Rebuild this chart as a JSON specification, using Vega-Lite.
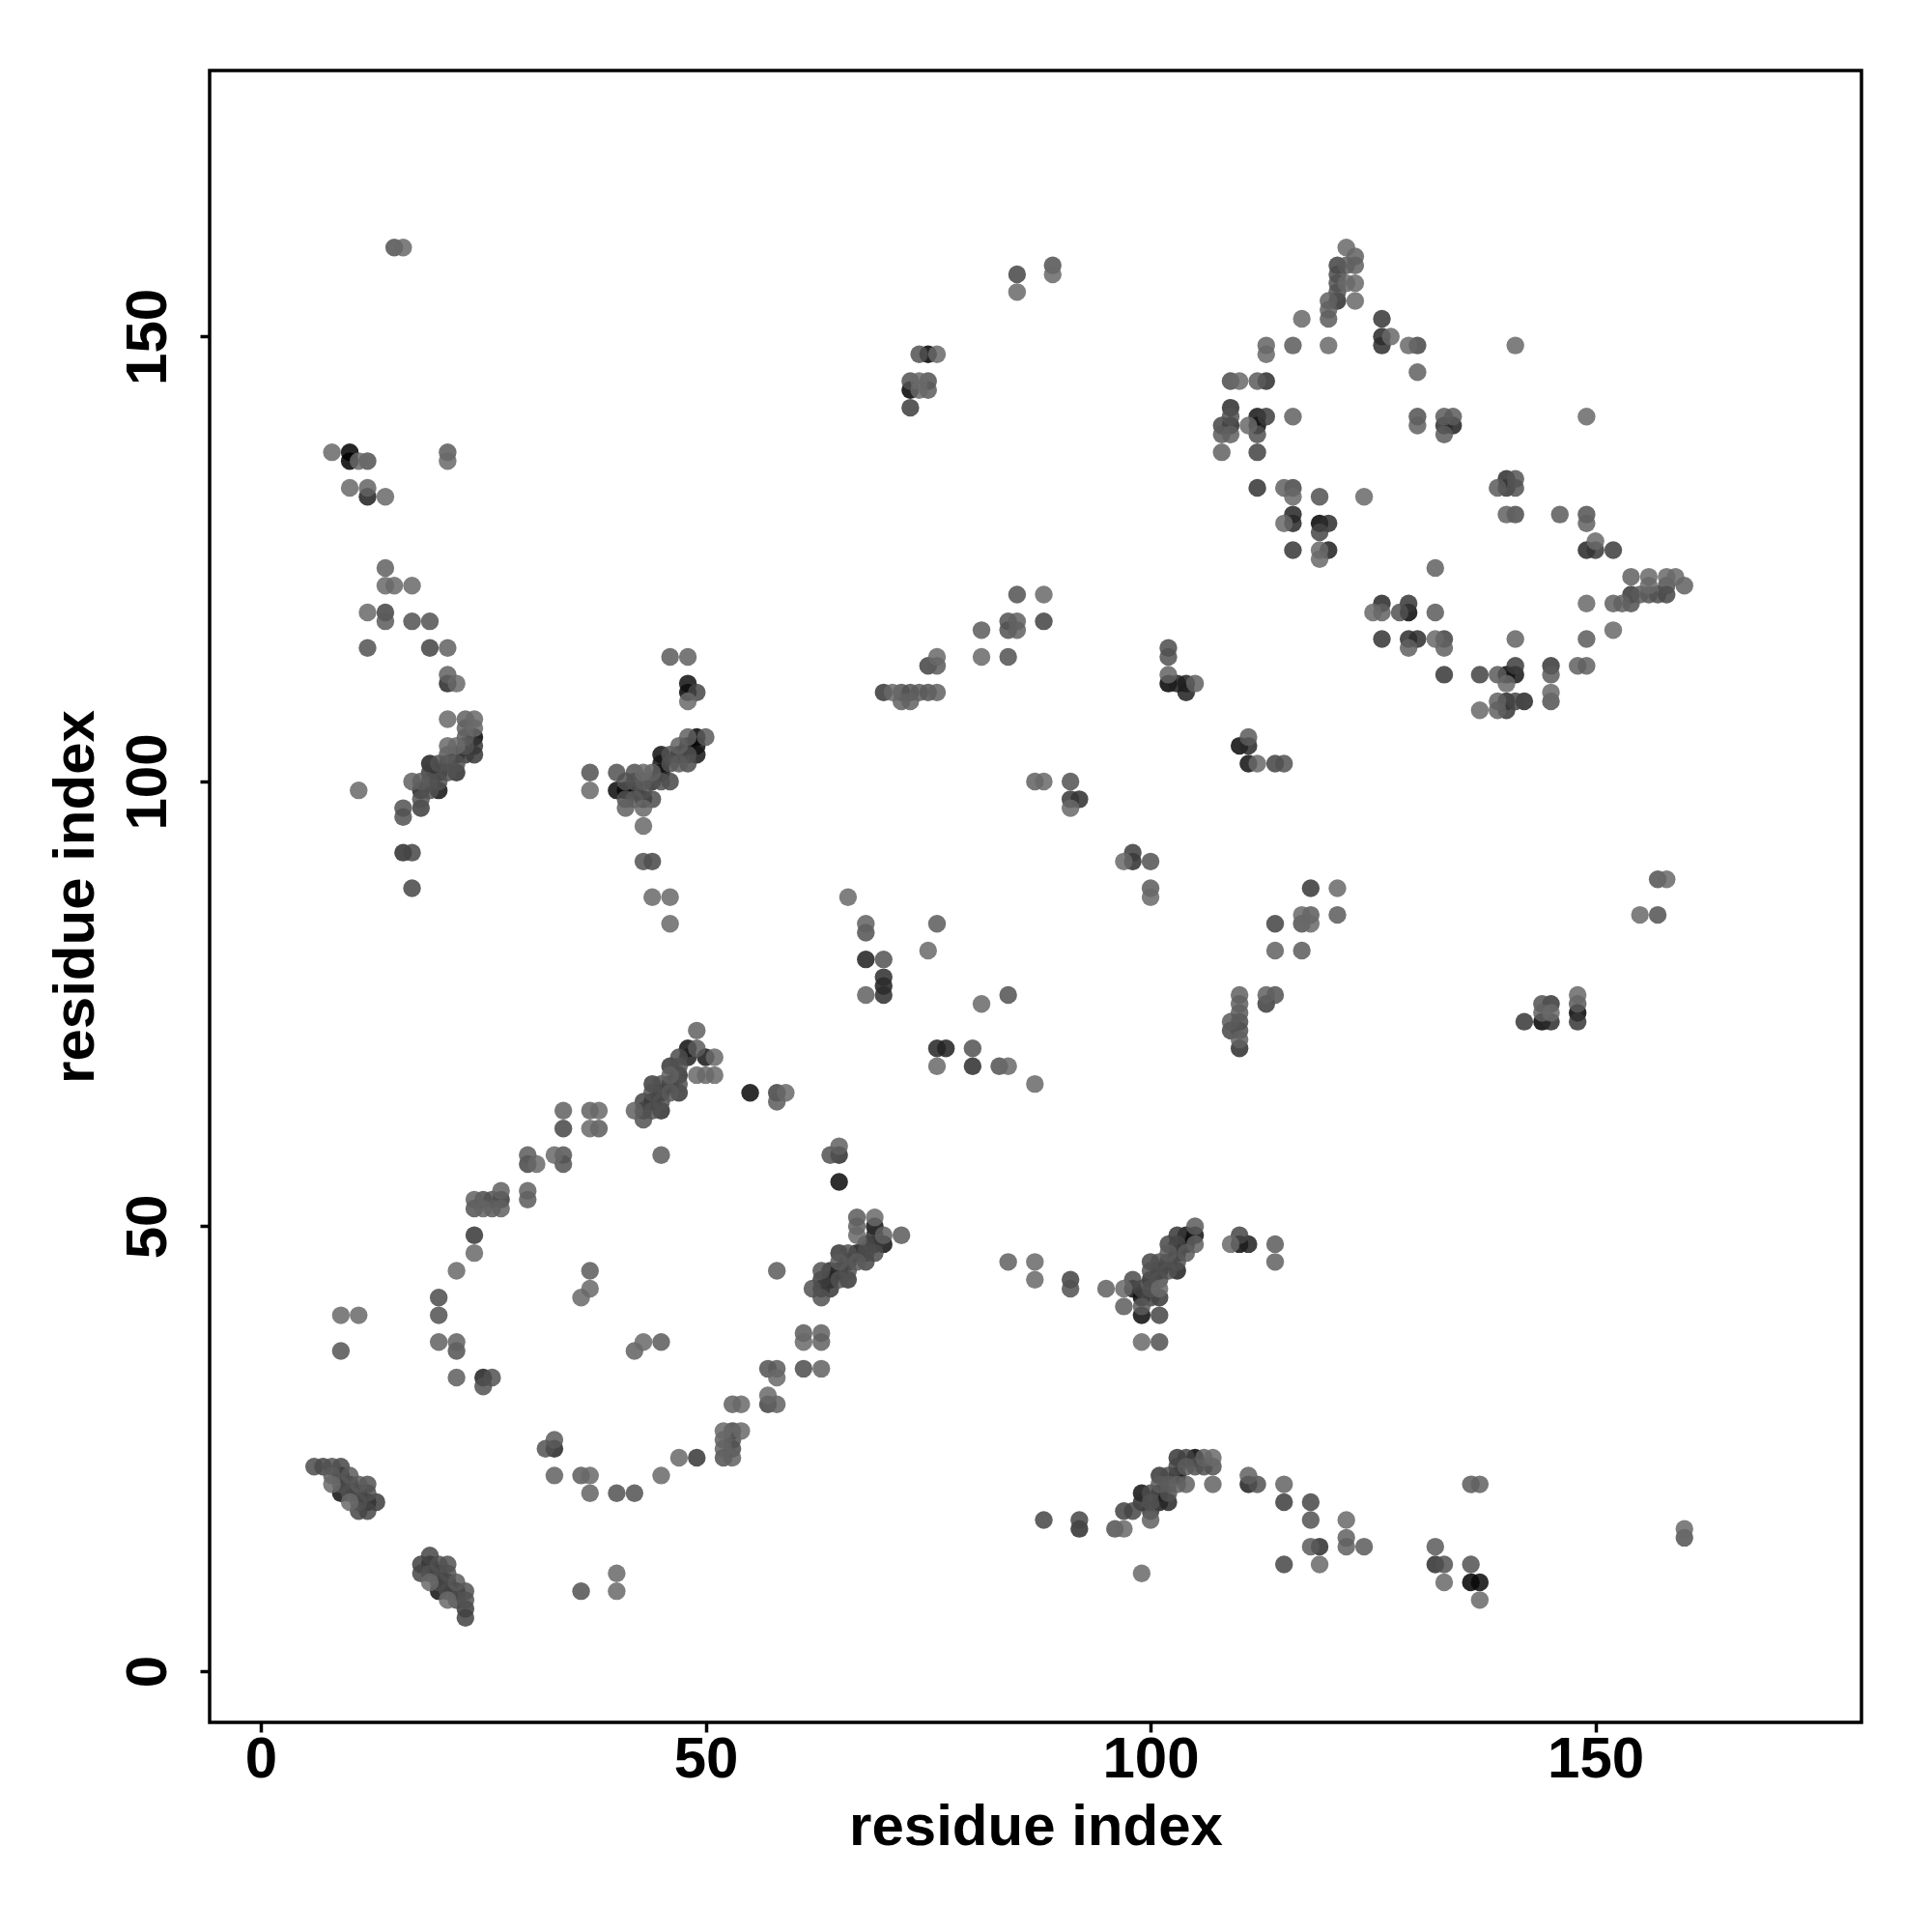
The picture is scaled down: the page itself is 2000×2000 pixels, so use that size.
{"$schema":"https://vega.github.io/schema/vega-lite/v6.json","autosize":{"type":"none"},"width":1710,"height":1710,"padding":{"left":217,"top":73,"right":73,"bottom":217},"background":"white","view":{"stroke":"black","strokeWidth":3.5,"fill":null},"config":{"font":"Liberation Sans"},
"data":{"values":[
{"x":6,"y":23,"s":0.4},{"x":7,"y":23,"s":0.37},{"x":8,"y":23,"s":0.42},{"x":9,"y":23,"s":0.38},{"x":8,"y":22,"s":0.45},{"x":9,"y":22,"s":0.05},{"x":10,"y":22,"s":0.45},{"x":8,"y":21,"s":0.5},{"x":9,"y":21,"s":0.42},{"x":10,"y":21,"s":0.05},{"x":11,"y":21,"s":0.45},{"x":12,"y":21,"s":0.42},{"x":9,"y":20,"s":0.2},{"x":10,"y":20,"s":0.42},{"x":11,"y":20,"s":0.05},{"x":12,"y":20,"s":0.42},{"x":10,"y":19,"s":0.5},{"x":11,"y":19,"s":0.42},{"x":12,"y":19,"s":0.05},{"x":13,"y":19,"s":0.35},{"x":11,"y":18,"s":0.38},{"x":12,"y":18,"s":0.38},
{"x":19,"y":13,"s":0.38},{"x":18,"y":12,"s":0.36},{"x":18,"y":11,"s":0.38},{"x":19,"y":12,"s":0.05},{"x":20,"y":12,"s":0.42},{"x":21,"y":12,"s":0.42},{"x":19,"y":11,"s":0.42},{"x":20,"y":11,"s":0.05},{"x":21,"y":11,"s":0.42},{"x":19,"y":10,"s":0.5},{"x":20,"y":10,"s":0.4},{"x":21,"y":10,"s":0.05},{"x":22,"y":10,"s":0.45},{"x":20,"y":9,"s":0.2},{"x":21,"y":9,"s":0.4},{"x":22,"y":9,"s":0.05},{"x":23,"y":9,"s":0.42},{"x":21,"y":8,"s":0.5},{"x":22,"y":8,"s":0.4},{"x":23,"y":8,"s":0.42},{"x":23,"y":7,"s":0.35},{"x":23,"y":6,"s":0.37},
{"x":36,"y":9,"s":0.42},{"x":40,"y":11,"s":0.5},{"x":40,"y":9,"s":0.5},{"x":45,"y":22,"s":0.5},{"x":47,"y":24,"s":0.5},{"x":49,"y":24,"s":0.33},{"x":33,"y":22,"s":0.47},{"x":36,"y":22,"s":0.45},{"x":37,"y":22,"s":0.5},{"x":37,"y":20,"s":0.48},{"x":40,"y":20,"s":0.42},{"x":42,"y":20,"s":0.42},{"x":32,"y":25,"s":0.42},{"x":33,"y":26,"s":0.45},{"x":33,"y":25,"s":0.27},
{"x":52,"y":27,"s":0.5},{"x":53,"y":27,"s":0.38},{"x":54,"y":27,"s":0.5},{"x":52,"y":26,"s":0.47},{"x":53,"y":26,"s":0.42},{"x":52,"y":25,"s":0.48},{"x":53,"y":25,"s":0.4},{"x":52,"y":24,"s":0.42},{"x":53,"y":24,"s":0.47},{"x":53,"y":30,"s":0.47},{"x":54,"y":30,"s":0.5},{"x":57,"y":31,"s":0.5},{"x":57,"y":30,"s":0.37},{"x":58,"y":30,"s":0.47},{"x":57,"y":34,"s":0.42},{"x":58,"y":34,"s":0.45},{"x":58,"y":33,"s":0.5},
{"x":49,"y":72,"s":0.47},{"x":48,"y":70,"s":0.2},{"x":49,"y":70,"s":0.45},{"x":50,"y":69,"s":0.22},{"x":51,"y":69,"s":0.5},{"x":49,"y":67,"s":0.5},{"x":50,"y":67,"s":0.5},{"x":51,"y":67,"s":0.5},{"x":47,"y":69,"s":0.4},{"x":48,"y":69,"s":0.25},{"x":46,"y":68,"s":0.33},{"x":47,"y":68,"s":0.42},{"x":46,"y":67,"s":0.47},{"x":47,"y":67,"s":0.3},{"x":46,"y":66,"s":0.15},{"x":47,"y":66,"s":0.42},{"x":47,"y":65,"s":0.33},{"x":44,"y":66,"s":0.35},{"x":45,"y":66,"s":0.42},{"x":45,"y":65,"s":0.05},{"x":44,"y":65,"s":0.42},{"x":46,"y":65,"s":0.45},{"x":43,"y":64,"s":0.37},{"x":44,"y":64,"s":0.05},{"x":45,"y":64,"s":0.42},{"x":45,"y":63,"s":0.3},{"x":44,"y":63,"s":0.42},{"x":43,"y":63,"s":0.37},{"x":42,"y":63,"s":0.47},{"x":43,"y":62,"s":0.42},{"x":45,"y":58,"s":0.45},
{"x":34,"y":63,"s":0.47},{"x":34,"y":61,"s":0.38},{"x":37,"y":63,"s":0.47},{"x":38,"y":63,"s":0.5},{"x":37,"y":61,"s":0.5},{"x":38,"y":61,"s":0.45},{"x":30,"y":58,"s":0.45},{"x":30,"y":57,"s":0.38},{"x":31,"y":57,"s":0.5},{"x":33,"y":58,"s":0.5},{"x":34,"y":58,"s":0.43},{"x":34,"y":57,"s":0.42},{"x":30,"y":54,"s":0.47},{"x":30,"y":53,"s":0.45},{"x":27,"y":54,"s":0.47},{"x":27,"y":53,"s":0.33},{"x":24,"y":53,"s":0.47},{"x":25,"y":53,"s":0.4},{"x":26,"y":53,"s":0.42},{"x":24,"y":52,"s":0.42},{"x":25,"y":52,"s":0.48},{"x":26,"y":52,"s":0.45},{"x":27,"y":52,"s":0.47},{"x":24,"y":49,"s":0.33},{"x":24,"y":47,"s":0.5},{"x":22,"y":45,"s":0.5},{"x":20,"y":42,"s":0.4},{"x":20,"y":40,"s":0.42},{"x":20,"y":37,"s":0.47},{"x":22,"y":37,"s":0.47},{"x":22,"y":36,"s":0.42},{"x":22,"y":33,"s":0.46},{"x":25,"y":33,"s":0.25},{"x":26,"y":33,"s":0.42},{"x":25,"y":32,"s":0.42},{"x":37,"y":45,"s":0.45},{"x":37,"y":43,"s":0.5},{"x":36,"y":42,"s":0.5},{"x":45,"y":37,"s":0.45},{"x":43,"y":37,"s":0.5},{"x":42,"y":36,"s":0.47},
{"x":55,"y":65,"s":0.18},{"x":58,"y":65,"s":0.37},{"x":59,"y":65,"s":0.5},{"x":58,"y":64,"s":0.45},{"x":65,"y":59,"s":0.47},{"x":64,"y":58,"s":0.42},{"x":65,"y":58,"s":0.3},{"x":65,"y":55,"s":0.18},
{"x":67,"y":51,"s":0.45},{"x":69,"y":51,"s":0.5},{"x":67,"y":50,"s":0.47},{"x":67,"y":49,"s":0.5},{"x":69,"y":50,"s":0.2},{"x":70,"y":49,"s":0.47},{"x":72,"y":49,"s":0.45},{"x":70,"y":48,"s":0.2},{"x":69,"y":49,"s":0.3},{"x":69,"y":48,"s":0.35},{"x":68,"y":48,"s":0.38},{"x":68,"y":47,"s":0.4},{"x":69,"y":47,"s":0.4},{"x":67,"y":47,"s":0.22},{"x":66,"y":47,"s":0.42},{"x":65,"y":47,"s":0.33},{"x":68,"y":46,"s":0.38},{"x":66,"y":46,"s":0.2},{"x":67,"y":46,"s":0.45},{"x":65,"y":46,"s":0.45},{"x":64,"y":45,"s":0.3},{"x":65,"y":45,"s":0.05},{"x":66,"y":45,"s":0.42},{"x":63,"y":45,"s":0.42},{"x":64,"y":44,"s":0.05},{"x":65,"y":44,"s":0.42},{"x":66,"y":44,"s":0.33},{"x":63,"y":44,"s":0.35},{"x":62,"y":43,"s":0.42},{"x":63,"y":43,"s":0.3},{"x":64,"y":43,"s":0.33},{"x":63,"y":42,"s":0.42},{"x":58,"y":45,"s":0.45},{"x":61,"y":38,"s":0.45},{"x":63,"y":38,"s":0.47},{"x":61,"y":37,"s":0.5},{"x":63,"y":37,"s":0.47},{"x":61,"y":34,"s":0.4},{"x":63,"y":34,"s":0.47},
{"x":9,"y":40,"s":0.5},{"x":11,"y":40,"s":0.5},{"x":9,"y":36,"s":0.43},
{"x":87,"y":46,"s":0.5},{"x":87,"y":44,"s":0.5},{"x":84,"y":46,"s":0.47},{"x":91,"y":44,"s":0.37},{"x":91,"y":43,"s":0.42},{"x":95,"y":43,"s":0.47},{"x":97,"y":43,"s":0.5},{"x":97,"y":41,"s":0.46},{"x":98,"y":44,"s":0.4},{"x":98,"y":43,"s":0.2},{"x":99,"y":41,"s":0.45},{"x":99,"y":40,"s":0.18},{"x":99,"y":42,"s":0.15},{"x":101,"y":40,"s":0.38},{"x":99,"y":37,"s":0.5},{"x":101,"y":37,"s":0.42},{"x":100,"y":42,"s":0.38},{"x":101,"y":42,"s":0.33},{"x":101,"y":43,"s":0.5},{"x":100,"y":43,"s":0.42},{"x":99,"y":43,"s":0.38},{"x":100,"y":44,"s":0.28},{"x":100,"y":45,"s":0.42},{"x":100,"y":46,"s":0.38},{"x":101,"y":44,"s":0.42},{"x":101,"y":45,"s":0.05},{"x":102,"y":45,"s":0.42},{"x":103,"y":45,"s":0.25},{"x":101,"y":46,"s":0.42},{"x":102,"y":46,"s":0.25},{"x":103,"y":46,"s":0.42},{"x":102,"y":47,"s":0.45},{"x":103,"y":47,"s":0.12},{"x":104,"y":47,"s":0.45},{"x":102,"y":48,"s":0.38},{"x":103,"y":48,"s":0.38},{"x":104,"y":48,"s":0.12},{"x":105,"y":48,"s":0.47},{"x":103,"y":49,"s":0.33},{"x":104,"y":49,"s":0.2},{"x":105,"y":49,"s":0.2},{"x":105,"y":50,"s":0.45},
{"x":109,"y":48,"s":0.5},{"x":110,"y":49,"s":0.38},{"x":110,"y":48,"s":0.18},{"x":111,"y":48,"s":0.25},{"x":114,"y":48,"s":0.45},{"x":114,"y":46,"s":0.47},
{"x":88,"y":17,"s":0.38},{"x":92,"y":17,"s":0.38},{"x":92,"y":16,"s":0.3},{"x":96,"y":16,"s":0.42},{"x":97,"y":16,"s":0.5},{"x":97,"y":18,"s":0.37},{"x":98,"y":18,"s":0.38},{"x":99,"y":19,"s":0.3},{"x":99,"y":20,"s":0.2},{"x":100,"y":17,"s":0.47},{"x":100,"y":18,"s":0.35},{"x":100,"y":19,"s":0.42},{"x":100,"y":20,"s":0.4},{"x":101,"y":19,"s":0.25},{"x":101,"y":20,"s":0.05},{"x":102,"y":19,"s":0.28},{"x":102,"y":20,"s":0.42},{"x":101,"y":22,"s":0.33},{"x":102,"y":22,"s":0.4},{"x":102,"y":21,"s":0.45},{"x":101,"y":21,"s":0.45},{"x":103,"y":22,"s":0.12},{"x":103,"y":23,"s":0.38},{"x":103,"y":24,"s":0.33},{"x":104,"y":24,"s":0.37},{"x":105,"y":24,"s":0.15},{"x":106,"y":24,"s":0.47},{"x":107,"y":24,"s":0.5},{"x":104,"y":23,"s":0.45},{"x":105,"y":23,"s":0.42},{"x":106,"y":23,"s":0.42},{"x":107,"y":23,"s":0.42},{"x":104,"y":21,"s":0.47},{"x":107,"y":21,"s":0.48},{"x":103,"y":21,"s":0.47},
{"x":111,"y":22,"s":0.47},{"x":111,"y":21,"s":0.25},{"x":112,"y":21,"s":0.42},{"x":115,"y":21,"s":0.48},{"x":115,"y":19,"s":0.35},{"x":118,"y":19,"s":0.38},{"x":118,"y":17,"s":0.42},{"x":118,"y":14,"s":0.45},{"x":119,"y":14,"s":0.3},{"x":119,"y":12,"s":0.5},{"x":115,"y":12,"s":0.38},{"x":122,"y":17,"s":0.5},{"x":122,"y":15,"s":0.47},{"x":122,"y":14,"s":0.47},{"x":124,"y":14,"s":0.45},{"x":99,"y":11,"s":0.5},{"x":132,"y":14,"s":0.45},{"x":132,"y":12,"s":0.3},{"x":133,"y":12,"s":0.42},{"x":133,"y":10,"s":0.5},{"x":136,"y":12,"s":0.42},{"x":136,"y":10,"s":0.1},{"x":137,"y":10,"s":0.18},{"x":137,"y":8,"s":0.5},{"x":136,"y":21,"s":0.45},{"x":137,"y":21,"s":0.47},{"x":160,"y":16,"s":0.5},{"x":160,"y":15,"s":0.42},
{"x":122,"y":160,"s":0.5},{"x":123,"y":159,"s":0.47},{"x":121,"y":158,"s":0.37},{"x":122,"y":158,"s":0.45},{"x":123,"y":158,"s":0.47},{"x":121,"y":157,"s":0.4},{"x":122,"y":156,"s":0.5},{"x":123,"y":156,"s":0.5},{"x":121,"y":156,"s":0.42},{"x":121,"y":155,"s":0.42},{"x":121,"y":154,"s":0.3},{"x":120,"y":154,"s":0.47},{"x":123,"y":154,"s":0.5},{"x":120,"y":153,"s":0.47},{"x":120,"y":152,"s":0.45},{"x":117,"y":152,"s":0.5},{"x":126,"y":152,"s":0.33},{"x":126,"y":150,"s":0.28},{"x":126,"y":149,"s":0.3},{"x":127,"y":150,"s":0.5},{"x":129,"y":149,"s":0.5},{"x":130,"y":149,"s":0.38},{"x":130,"y":146,"s":0.47},{"x":141,"y":149,"s":0.5},{"x":120,"y":149,"s":0.5},{"x":116,"y":149,"s":0.45},{"x":113,"y":149,"s":0.48},{"x":113,"y":148,"s":0.5},
{"x":109,"y":145,"s":0.4},{"x":110,"y":145,"s":0.5},{"x":112,"y":145,"s":0.45},{"x":113,"y":145,"s":0.3},{"x":109,"y":142,"s":0.3},{"x":109,"y":141,"s":0.42},{"x":108,"y":140,"s":0.38},{"x":109,"y":140,"s":0.28},{"x":108,"y":139,"s":0.45},{"x":109,"y":139,"s":0.47},{"x":108,"y":137,"s":0.47},{"x":112,"y":141,"s":0.22},{"x":113,"y":141,"s":0.35},{"x":111,"y":140,"s":0.5},{"x":112,"y":140,"s":0.17},{"x":112,"y":139,"s":0.42},{"x":112,"y":137,"s":0.37},{"x":116,"y":141,"s":0.47},{"x":130,"y":141,"s":0.42},{"x":130,"y":140,"s":0.47},{"x":133,"y":141,"s":0.45},{"x":134,"y":141,"s":0.45},{"x":133,"y":140,"s":0.3},{"x":134,"y":140,"s":0.25},{"x":133,"y":139,"s":0.45},{"x":149,"y":141,"s":0.5},
{"x":112,"y":133,"s":0.32},{"x":115,"y":133,"s":0.47},{"x":116,"y":133,"s":0.38},{"x":116,"y":132,"s":0.5},{"x":119,"y":132,"s":0.42},{"x":124,"y":132,"s":0.5},{"x":115,"y":129,"s":0.5},{"x":116,"y":130,"s":0.27},{"x":116,"y":129,"s":0.28},{"x":119,"y":129,"s":0.15},{"x":120,"y":129,"s":0.3},{"x":119,"y":128,"s":0.38},{"x":116,"y":126,"s":0.33},{"x":119,"y":126,"s":0.5},{"x":120,"y":126,"s":0.25},{"x":119,"y":125,"s":0.5},
{"x":139,"y":133,"s":0.45},{"x":140,"y":134,"s":0.3},{"x":141,"y":134,"s":0.43},{"x":140,"y":133,"s":0.33},{"x":141,"y":133,"s":0.42},{"x":140,"y":130,"s":0.47},{"x":141,"y":130,"s":0.4},{"x":146,"y":130,"s":0.45},{"x":149,"y":130,"s":0.42},{"x":149,"y":129,"s":0.47},{"x":150,"y":127,"s":0.5},{"x":149,"y":126,"s":0.28},{"x":150,"y":126,"s":0.33},{"x":152,"y":126,"s":0.35},{"x":132,"y":124,"s":0.47},
{"x":154,"y":123,"s":0.47},{"x":156,"y":123,"s":0.5},{"x":158,"y":123,"s":0.5},{"x":159,"y":123,"s":0.5},{"x":160,"y":122,"s":0.47},{"x":156,"y":122,"s":0.5},{"x":158,"y":122,"s":0.42},{"x":154,"y":121,"s":0.33},{"x":155,"y":121,"s":0.45},{"x":156,"y":121,"s":0.42},{"x":157,"y":121,"s":0.4},{"x":158,"y":121,"s":0.38},{"x":154,"y":120,"s":0.42},{"x":153,"y":120,"s":0.47},{"x":152,"y":120,"s":0.47},{"x":149,"y":120,"s":0.5},
{"x":126,"y":120,"s":0.28},{"x":129,"y":120,"s":0.33},{"x":125,"y":119,"s":0.5},{"x":126,"y":119,"s":0.47},{"x":128,"y":119,"s":0.42},{"x":129,"y":119,"s":0.17},{"x":132,"y":119,"s":0.45},{"x":152,"y":117,"s":0.5},{"x":126,"y":116,"s":0.32},{"x":129,"y":116,"s":0.3},{"x":130,"y":116,"s":0.3},{"x":132,"y":116,"s":0.5},{"x":133,"y":116,"s":0.36},{"x":129,"y":115,"s":0.47},{"x":133,"y":115,"s":0.47},{"x":141,"y":116,"s":0.48},{"x":149,"y":116,"s":0.45},
{"x":133,"y":112,"s":0.33},{"x":137,"y":112,"s":0.37},{"x":139,"y":112,"s":0.45},{"x":140,"y":112,"s":0.17},{"x":141,"y":112,"s":0.22},{"x":141,"y":113,"s":0.35},{"x":140,"y":111,"s":0.5},{"x":145,"y":113,"s":0.33},{"x":145,"y":112,"s":0.45},{"x":148,"y":113,"s":0.47},{"x":149,"y":113,"s":0.47},{"x":145,"y":110,"s":0.5},{"x":145,"y":109,"s":0.42},{"x":137,"y":108,"s":0.5},{"x":139,"y":109,"s":0.47},{"x":140,"y":109,"s":0.28},{"x":141,"y":109,"s":0.38},{"x":142,"y":109,"s":0.28},{"x":139,"y":108,"s":0.47},{"x":140,"y":108,"s":0.33},
{"x":8,"y":137,"s":0.5},{"x":10,"y":137,"s":0.15},{"x":10,"y":136,"s":0.1},{"x":11,"y":136,"s":0.5},{"x":12,"y":136,"s":0.42},{"x":21,"y":137,"s":0.45},{"x":21,"y":136,"s":0.5},{"x":10,"y":133,"s":0.5},{"x":12,"y":133,"s":0.48},{"x":12,"y":132,"s":0.25},{"x":14,"y":132,"s":0.5},{"x":14,"y":124,"s":0.47},{"x":14,"y":122,"s":0.5},{"x":15,"y":122,"s":0.5},{"x":17,"y":122,"s":0.5},{"x":12,"y":119,"s":0.5},{"x":14,"y":119,"s":0.37},{"x":14,"y":118,"s":0.45},{"x":17,"y":118,"s":0.42},{"x":19,"y":118,"s":0.42},{"x":12,"y":115,"s":0.42},{"x":19,"y":115,"s":0.37},{"x":21,"y":115,"s":0.47},{"x":21,"y":112,"s":0.47},{"x":21,"y":111,"s":0.28},{"x":22,"y":111,"s":0.5},
{"x":21,"y":107,"s":0.5},{"x":23,"y":107,"s":0.47},{"x":24,"y":107,"s":0.5},{"x":23,"y":106,"s":0.47},{"x":24,"y":106,"s":0.5},{"x":23,"y":105,"s":0.45},{"x":24,"y":105,"s":0.15},{"x":23,"y":104,"s":0.42},{"x":24,"y":104,"s":0.33},{"x":23,"y":103,"s":0.35},{"x":24,"y":103,"s":0.33},{"x":21,"y":104,"s":0.5},{"x":22,"y":104,"s":0.5},{"x":21,"y":103,"s":0.45},{"x":22,"y":103,"s":0.05},{"x":22,"y":102,"s":0.42},{"x":21,"y":102,"s":0.42},{"x":22,"y":101,"s":0.3},{"x":20,"y":102,"s":0.42},{"x":19,"y":102,"s":0.25},{"x":19,"y":101,"s":0.35},{"x":20,"y":101,"s":0.05},{"x":21,"y":101,"s":0.42},{"x":18,"y":100,"s":0.45},{"x":17,"y":100,"s":0.47},{"x":19,"y":100,"s":0.42},{"x":20,"y":100,"s":0.42},{"x":18,"y":99,"s":0.25},{"x":19,"y":99,"s":0.42},{"x":20,"y":99,"s":0.2},{"x":18,"y":98,"s":0.42},{"x":18,"y":97,"s":0.35},{"x":16,"y":97,"s":0.42},{"x":16,"y":96,"s":0.42},{"x":11,"y":99,"s":0.5},{"x":16,"y":92,"s":0.3},{"x":17,"y":92,"s":0.38},{"x":17,"y":88,"s":0.38},
{"x":37,"y":101,"s":0.42},{"x":37,"y":99,"s":0.5},{"x":40,"y":101,"s":0.42},{"x":40,"y":99,"s":0.18},{"x":41,"y":99,"s":0.15},{"x":42,"y":101,"s":0.42},{"x":43,"y":101,"s":0.5},{"x":41,"y":100,"s":0.42},{"x":42,"y":100,"s":0.42},{"x":43,"y":100,"s":0.45},{"x":44,"y":100,"s":0.3},{"x":42,"y":99,"s":0.2},{"x":43,"y":99,"s":0.42},{"x":41,"y":98,"s":0.42},{"x":42,"y":98,"s":0.45},{"x":43,"y":98,"s":0.15},{"x":44,"y":98,"s":0.4},{"x":41,"y":97,"s":0.47},{"x":43,"y":97,"s":0.5},{"x":43,"y":95,"s":0.5},{"x":44,"y":101,"s":0.47},{"x":45,"y":101,"s":0.05},{"x":45,"y":102,"s":0.22},{"x":45,"y":103,"s":0.2},{"x":46,"y":103,"s":0.42},{"x":46,"y":102,"s":0.42},{"x":46,"y":100,"s":0.38},{"x":45,"y":100,"s":0.42},{"x":47,"y":103,"s":0.1},{"x":47,"y":102,"s":0.45},{"x":48,"y":102,"s":0.4},{"x":47,"y":104,"s":0.47},{"x":48,"y":104,"s":0.12},{"x":49,"y":104,"s":0.18},{"x":48,"y":105,"s":0.47},{"x":49,"y":105,"s":0.15},{"x":50,"y":105,"s":0.45},{"x":49,"y":103,"s":0.22},{"x":48,"y":103,"s":0.42},{"x":46,"y":114,"s":0.45},{"x":48,"y":114,"s":0.47},{"x":48,"y":111,"s":0.2},{"x":48,"y":110,"s":0.15},{"x":49,"y":110,"s":0.38},{"x":48,"y":109,"s":0.5},{"x":43,"y":91,"s":0.42},{"x":44,"y":91,"s":0.38},{"x":44,"y":87,"s":0.5},{"x":46,"y":87,"s":0.5},{"x":46,"y":84,"s":0.5},{"x":15,"y":160,"s":0.42},{"x":16,"y":160,"s":0.5},
{"x":66,"y":87,"s":0.5},{"x":68,"y":84,"s":0.47},{"x":68,"y":83,"s":0.42},{"x":68,"y":80,"s":0.25},{"x":70,"y":80,"s":0.42},{"x":70,"y":78,"s":0.3},{"x":70,"y":77,"s":0.25},{"x":70,"y":76,"s":0.3},{"x":68,"y":76,"s":0.47},{"x":75,"y":81,"s":0.5},{"x":76,"y":84,"s":0.45},{"x":81,"y":75,"s":0.5},{"x":84,"y":76,"s":0.42},{"x":76,"y":70,"s":0.27},{"x":77,"y":70,"s":0.25},{"x":76,"y":68,"s":0.5},{"x":80,"y":70,"s":0.42},{"x":80,"y":68,"s":0.3},{"x":83,"y":68,"s":0.42},{"x":84,"y":68,"s":0.5},{"x":87,"y":66,"s":0.5},{"x":87,"y":100,"s":0.47},{"x":88,"y":100,"s":0.5},{"x":91,"y":100,"s":0.42},{"x":91,"y":98,"s":0.33},{"x":92,"y":98,"s":0.3},{"x":91,"y":97,"s":0.5},{"x":97,"y":91,"s":0.5},{"x":98,"y":92,"s":0.35},{"x":98,"y":91,"s":0.3},{"x":100,"y":91,"s":0.42},{"x":100,"y":88,"s":0.45},{"x":100,"y":87,"s":0.5},
{"x":110,"y":76,"s":0.47},{"x":110,"y":75,"s":0.47},{"x":110,"y":74,"s":0.45},{"x":109,"y":73,"s":0.45},{"x":110,"y":73,"s":0.4},{"x":109,"y":72,"s":0.38},{"x":110,"y":72,"s":0.42},{"x":110,"y":71,"s":0.47},{"x":110,"y":70,"s":0.3},{"x":113,"y":76,"s":0.47},{"x":114,"y":76,"s":0.42},{"x":113,"y":75,"s":0.35},{"x":114,"y":81,"s":0.47},{"x":117,"y":81,"s":0.45},{"x":114,"y":84,"s":0.37},{"x":117,"y":85,"s":0.5},{"x":118,"y":85,"s":0.45},{"x":117,"y":84,"s":0.42},{"x":118,"y":84,"s":0.5},{"x":121,"y":85,"s":0.45},{"x":118,"y":88,"s":0.33},{"x":121,"y":88,"s":0.5},{"x":155,"y":85,"s":0.5},{"x":157,"y":85,"s":0.42},{"x":157,"y":89,"s":0.42},{"x":158,"y":89,"s":0.5},
{"x":142,"y":73,"s":0.33},{"x":144,"y":73,"s":0.15},{"x":144,"y":75,"s":0.42},{"x":145,"y":75,"s":0.33},{"x":144,"y":74,"s":0.47},{"x":145,"y":74,"s":0.5},{"x":145,"y":73,"s":0.3},{"x":148,"y":76,"s":0.5},{"x":148,"y":75,"s":0.45},{"x":148,"y":74,"s":0.1},{"x":148,"y":73,"s":0.33},
{"x":110,"y":104,"s":0.18},{"x":111,"y":105,"s":0.45},{"x":111,"y":104,"s":0.28},{"x":111,"y":102,"s":0.2},{"x":112,"y":102,"s":0.5},{"x":114,"y":102,"s":0.37},{"x":115,"y":102,"s":0.42},{"x":102,"y":115,"s":0.4},{"x":102,"y":114,"s":0.42},{"x":102,"y":112,"s":0.48},{"x":102,"y":111,"s":0.15},{"x":103,"y":111,"s":0.25},{"x":104,"y":111,"s":0.25},{"x":104,"y":110,"s":0.25},{"x":105,"y":111,"s":0.47},
{"x":88,"y":118,"s":0.37},{"x":88,"y":121,"s":0.5},{"x":85,"y":121,"s":0.42},{"x":84,"y":118,"s":0.42},{"x":85,"y":118,"s":0.47},{"x":84,"y":117,"s":0.42},{"x":85,"y":117,"s":0.47},{"x":81,"y":117,"s":0.45},{"x":81,"y":114,"s":0.5},{"x":84,"y":114,"s":0.42},{"x":75,"y":113,"s":0.37},{"x":76,"y":113,"s":0.45},{"x":76,"y":114,"s":0.5},{"x":70,"y":110,"s":0.33},{"x":71,"y":110,"s":0.5},{"x":72,"y":110,"s":0.42},{"x":72,"y":109,"s":0.47},{"x":73,"y":110,"s":0.42},{"x":73,"y":109,"s":0.47},{"x":74,"y":110,"s":0.45},{"x":75,"y":110,"s":0.42},{"x":76,"y":110,"s":0.47},
{"x":74,"y":148,"s":0.42},{"x":75,"y":148,"s":0.12},{"x":76,"y":148,"s":0.5},{"x":73,"y":145,"s":0.42},{"x":74,"y":145,"s":0.5},{"x":75,"y":145,"s":0.42},{"x":73,"y":144,"s":0.12},{"x":74,"y":144,"s":0.5},{"x":75,"y":144,"s":0.45},{"x":73,"y":142,"s":0.35},{"x":85,"y":157,"s":0.38},{"x":85,"y":155,"s":0.5},{"x":89,"y":158,"s":0.42},{"x":89,"y":157,"s":0.5}
]},
"mark":{"type":"circle","size":339,"opacity":0.85,"stroke":null},
"encoding":{
"x":{"field":"x","type":"quantitative","scale":{"domain":[-5.75,179.9],"nice":false,"zero":false},"axis":{"title":"residue index","values":[0,50,100,150],"grid":false,"domain":false,"tickColor":"black","tickWidth":3.5,"tickSize":10,"labelFont":"Liberation Sans","labelFontWeight":"bold","labelFontSize":60,"labelColor":"black","labelPadding":-1,"labelAngle":0,"labelAlign":"center","labelBaseline":"top","titleFont":"Liberation Sans","titleFontWeight":"bold","titleFontSize":60,"titleColor":"black","titlePadding":11}},
"y":{"field":"y","type":"quantitative","scale":{"domain":[-5.75,179.9],"nice":false,"zero":false},"axis":{"title":"residue index","values":[0,50,100,150],"grid":false,"domain":false,"tickColor":"black","tickWidth":3.5,"tickSize":10,"labelFont":"Liberation Sans","labelFontWeight":"bold","labelFontSize":60,"labelColor":"black","labelPadding":36,"labelAngle":-90,"labelAlign":"center","labelBaseline":"alphabetic","titleFont":"Liberation Sans","titleFontWeight":"bold","titleFontSize":60,"titleColor":"black","titlePadding":14}},
"color":{"field":"s","type":"quantitative","legend":null,"scale":{"domain":[0.15,1],"range":["#000000","#ffffff"],"interpolate":"rgb","clamp":true}},
"order":{"field":"s","type":"quantitative"}
}}
